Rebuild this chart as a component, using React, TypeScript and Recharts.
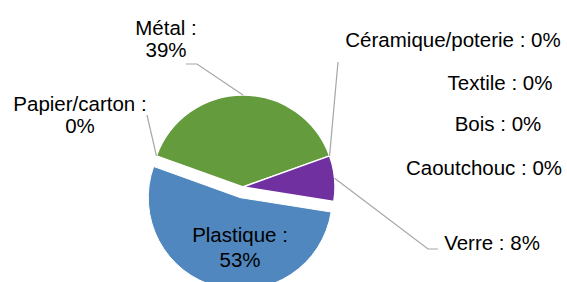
import React from 'react';
import { PieChart, Pie, Cell } from 'recharts';

// composition des déchets (%)
const categories = [
  'Plastique',
  'Papier/carton',
  'Métal',
  'Céramique/poterie',
  'Textile',
  'Bois',
  'Caoutchouc',
  'Verre'
];
const percents = [53, 0, 39, 0, 0, 0, 0, 8];
const colors = ['#4F87BE', '#C0504D', '#649B3D', '#8064A2', '#4BACC6', '#F79646', '#2C4D75', '#7030A0'];

const CX = 243;
const CY = 187;
const RADIUS = 92;
const START_ANGLE = -9;
const EXPLODE = 11;

// label placement (text lines, centre x, baselines, leader bend points)
const labelLayout: Record<string, { x: number; y: number[]; lines: string[]; leader?: number[][] }> = {
  Plastique: { x: 240, y: [242, 267], lines: ['Plastique :', '53%'] },
  'Papier/carton': { x: 80, y: [111, 133], lines: ['Papier/carton :', '0%'], leader: [[147, 115]] },
  'Métal': { x: 166, y: [35, 57], lines: ['Métal :', '39%'], leader: [[197, 64], [186, 64]] },
  'Céramique/poterie': { x: 453, y: [47], lines: ['Céramique/poterie : 0%'], leader: [[338, 62]] },
  Textile: { x: 500, y: [90], lines: ['Textile : 0%'] },
  Bois: { x: 498, y: [131], lines: ['Bois : 0%'] },
  Caoutchouc: { x: 484, y: [175], lines: ['Caoutchouc : 0%'] },
  Verre: { x: 492, y: [250], lines: ['Verre : 8%'], leader: [[428, 249], [438, 249]] }
};

const data = categories.map((name, i) => ({ name, value: percents[i] }));

const total = percents.reduce((a, b) => a + b, 0);
const plastiqueMid = START_ANGLE - ((percents[0] / total) * 360) / 2;
const RAD = Math.PI / 180;
const dx = EXPLODE * Math.cos(plastiqueMid * RAD);
const dy = -EXPLODE * Math.sin(plastiqueMid * RAD);

const renderLabel = (props: any) => {
  const { cx, cy, outerRadius, midAngle, name } = props;
  const layout = labelLayout[name];
  if (!layout) return null;
  const sx = cx + outerRadius * Math.cos(-midAngle * RAD);
  const sy = cy + outerRadius * Math.sin(-midAngle * RAD);
  const pts = layout.leader ? [[sx, sy], ...layout.leader] : null;
  return (
    <g key={name}>
      {pts && (
        <polyline
          points={pts.map((p) => p.join(',')).join(' ')}
          fill="none"
          stroke="#A6A6A6"
          strokeWidth={1.2}
        />
      )}
      <text
        textAnchor="middle"
        fontFamily="'Liberation Sans', Arial, sans-serif"
        fontSize={20.5}
        fill="#000"
      >
        {layout.lines.map((line, j) => (
          <tspan key={j} x={layout.x} y={layout.y[j]}>
            {line}
          </tspan>
        ))}
      </text>
    </g>
  );
};

const App: React.FC = () => {
  return (
    <div style={{ position: 'absolute', left: 0, top: 0, width: 567, height: 282, background: '#fff' }}>
      <PieChart width={567} height={282} margin={{ top: 0, right: 0, bottom: 0, left: 0 }}>
        {/* exploded Plastique slice */}
        <Pie
          data={data}
          dataKey="value"
          nameKey="name"
          cx={CX + dx}
          cy={CY + dy}
          outerRadius={RADIUS}
          startAngle={START_ANGLE}
          endAngle={START_ANGLE - 360}
          isAnimationActive={false}
          labelLine={false}
          stroke="none"
        >
          {data.map((d, i) => (
            <Cell key={d.name} fill={i === 0 ? colors[0] : 'none'} stroke={i === 0 ? '#fff' : 'none'} />
          ))}
        </Pie>
        <Pie
          data={data}
          dataKey="value"
          nameKey="name"
          cx={CX}
          cy={CY}
          outerRadius={RADIUS}
          startAngle={START_ANGLE}
          endAngle={START_ANGLE - 360}
          isAnimationActive={false}
          labelLine={false}
          label={renderLabel}
        >
          {data.map((d, i) => (
            <Cell
              key={d.name}
              fill={i === 0 ? 'none' : colors[i]}
              stroke={i === 0 ? 'none' : '#fff'}
              strokeWidth={1.5}
            />
          ))}
        </Pie>
      </PieChart>
    </div>
  );
};

export default App;
